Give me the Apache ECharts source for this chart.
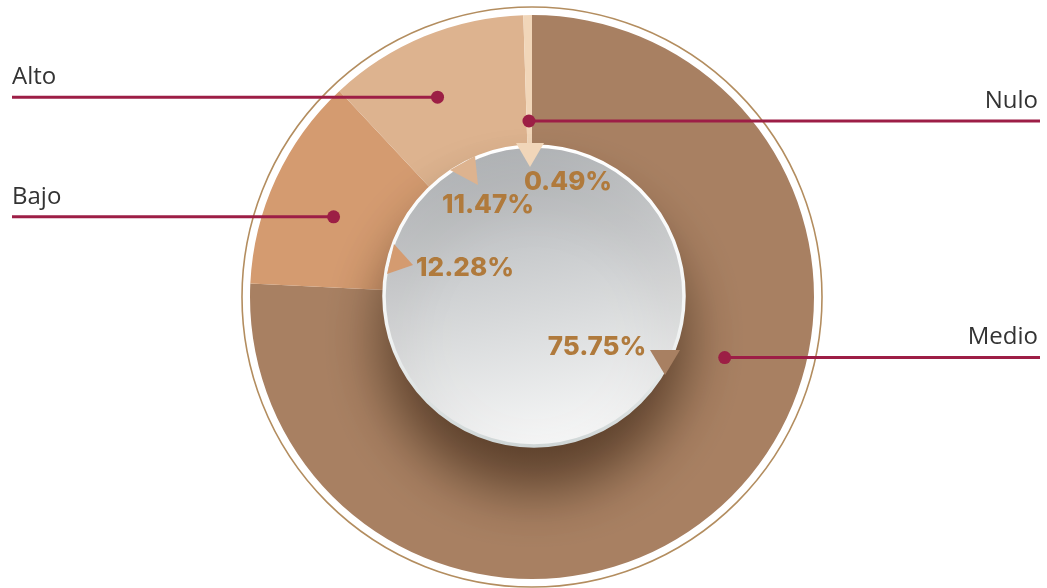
<!DOCTYPE html>
<html>
<head>
<meta charset="utf-8">
<script src="https://cdn.jsdelivr.net/npm/echarts@6/dist/echarts.min.js"></script>
<style>
  html, body { margin: 0; padding: 0; background: #ffffff; }
  #chart { width: 1047px; height: 588px; }
</style>
</head>
<body>
<div id="chart"></div>
<script>
// Distribution by level (percent)
const categories = ['Medio', 'Bajo', 'Alto', 'Nulo'];
const values = [75.75, 12.28, 11.47, 0.49];

// Styling and layout
const sliceColors = ['#a88062', '#d49b70', '#ddb38f', '#f1d6b9'];
const CX = 532, CY = 297;
const R_IN = 148, R_OUT = 282, R_RING = 290, R_DISK = 150;
const LEFT_EDGE = 12, RIGHT_EDGE = 1040;
const LEADER_COLOR = '#9d1e46';
// where each leader dot sits: fraction along the slice and distance from the centre
const anchors = {
  Medio: { t: 0.394, r: 202 },
  Bajo:  { t: 0.436, r: 214 },
  Alto:  { t: 0.43,  r: 221 },
  Nulo:  { t: 0.44,  r: 176 }
};
const leaderSide = { Medio: 'right', Bajo: 'left', Alto: 'left', Nulo: 'right' };
// percent label centres, relative to the pie centre
const pctOffsets = {
  Medio: [65, 50], Bajo: [-67, -29], Alto: [-44, -92], Nulo: [36, -115]
};
// small callout arrows, relative to the pie centre
const arrowShapes = {
  Medio: [[118, 53], [148, 53], [133, 78]],
  Bajo:  [[-138, -53], [-119, -32], [-145, -23]],
  Alto:  [[-82, -127], [-57, -141], [-54, -112]],
  Nulo:  [[-16, -154], [12, -154], [-2, -130]]
};

const total = values.reduce((a, b) => a + b, 0);
const startAngles = [];
let acc = 0;
values.forEach(v => { startAngles.push(acc / total * 360); acc += v; });

function anchorPoint(i) {
  const name = categories[i];
  const span = values[i] / total * 360;
  const a = (startAngles[i] + anchors[name].t * span) * Math.PI / 180;
  const r = anchors[name].r;
  return [CX + r * Math.sin(a), CY - r * Math.cos(a)];
}

const pieData = categories.map((name, i) => ({
  name: name,
  value: values[i],
  itemStyle: { color: sliceColors[i] }
}));

const graphics = [];
// thin outer ring
graphics.push({
  type: 'circle', z: 1, silent: true,
  shape: { cx: CX, cy: CY, r: R_RING },
  style: { fill: 'none', stroke: '#b38d5f', lineWidth: 1.6 }
});
// central disk with soft shadow below
graphics.push({
  type: 'circle', z: 10, silent: true,
  shape: { cx: CX + 2, cy: CY - 1, r: R_DISK },
  style: {
    fill: new echarts.graphic.LinearGradient(0.3, 0, 0.5, 1, [
      { offset: 0, color: '#aeb1b4' },
      { offset: 1, color: '#f6f7f7' }
    ]),
    stroke: new echarts.graphic.LinearGradient(0, 0, 0, 1, [
      { offset: 0, color: '#ffffff' },
      { offset: 0.6, color: '#f2f4f4' },
      { offset: 1, color: '#cfd6d6' }
    ]),
    lineWidth: 3.5,
    shadowBlur: 55,
    shadowOffsetY: 42,
    shadowColor: 'rgba(45, 25, 10, 0.62)'
  }
});
// callout arrows
categories.forEach((name, i) => {
  graphics.push({
    type: 'polygon', z: 12, silent: true,
    shape: { points: arrowShapes[name].map(p => [CX + p[0], CY + p[1]]) },
    style: { fill: sliceColors[i] }
  });
});
// leader lines and dots
categories.forEach((name, i) => {
  const p = anchorPoint(i);
  const endX = leaderSide[name] === 'left' ? LEFT_EDGE : RIGHT_EDGE;
  graphics.push({
    type: 'polyline', z: 29, silent: true,
    shape: { points: [[p[0], p[1]], [endX, p[1]]] },
    style: { fill: 'none', stroke: LEADER_COLOR, lineWidth: 3 }
  });
  graphics.push({
    type: 'circle', z: 30, silent: true,
    shape: { cx: p[0], cy: p[1], r: 6.5 },
    style: { fill: '#9c1f45' }
  });
});

const chart = echarts.init(document.getElementById('chart'), null, { renderer: 'canvas' });
chart.setOption({
  backgroundColor: '#ffffff',
  animation: false,
  graphic: graphics,
  series: [
    {
      type: 'pie',
      z: 2,
      silent: true,
      center: [CX, CY],
      radius: [R_IN, R_OUT],
      startAngle: 90,
      clockwise: true,
      avoidLabelOverlap: false,
      data: pieData,
      label: {
        show: true,
        formatter: '{b}',
        fontFamily: 'Open Sans',
        fontSize: 24,
        color: '#333333'
      },
      labelLine: { show: false },
      labelLayout: function (params) {
        const i = params.dataIndex;
        const name = categories[i];
        const p = anchorPoint(i);
        const left = leaderSide[name] === 'left';
        return {
          x: left ? LEFT_EDGE : RIGHT_EDGE - 2,
          y: p[1] - 8,
          align: left ? 'left' : 'right',
          verticalAlign: 'bottom'
        };
      }
    },
    {
      type: 'pie',
      z: 20,
      silent: true,
      center: [CX, CY],
      radius: [0, 10],
      startAngle: 90,
      data: pieData.map(d => ({ name: d.name, value: d.value, itemStyle: { color: 'rgba(0,0,0,0)' } })),
      label: {
        show: true,
        position: 'inside',
        formatter: p => p.value.toFixed(2) + '%',
        fontFamily: 'Inter',
        fontWeight: 800,
        fontSize: 26,
        color: '#b07a3c'
      },
      labelLine: { show: false },
      labelLayout: function (params) {
        const off = pctOffsets[categories[params.dataIndex]];
        return {
          x: CX + off[0],
          y: CY + off[1],
          align: 'center',
          verticalAlign: 'middle'
        };
      }
    }
  ]
});
</script>
</body>
</html>
